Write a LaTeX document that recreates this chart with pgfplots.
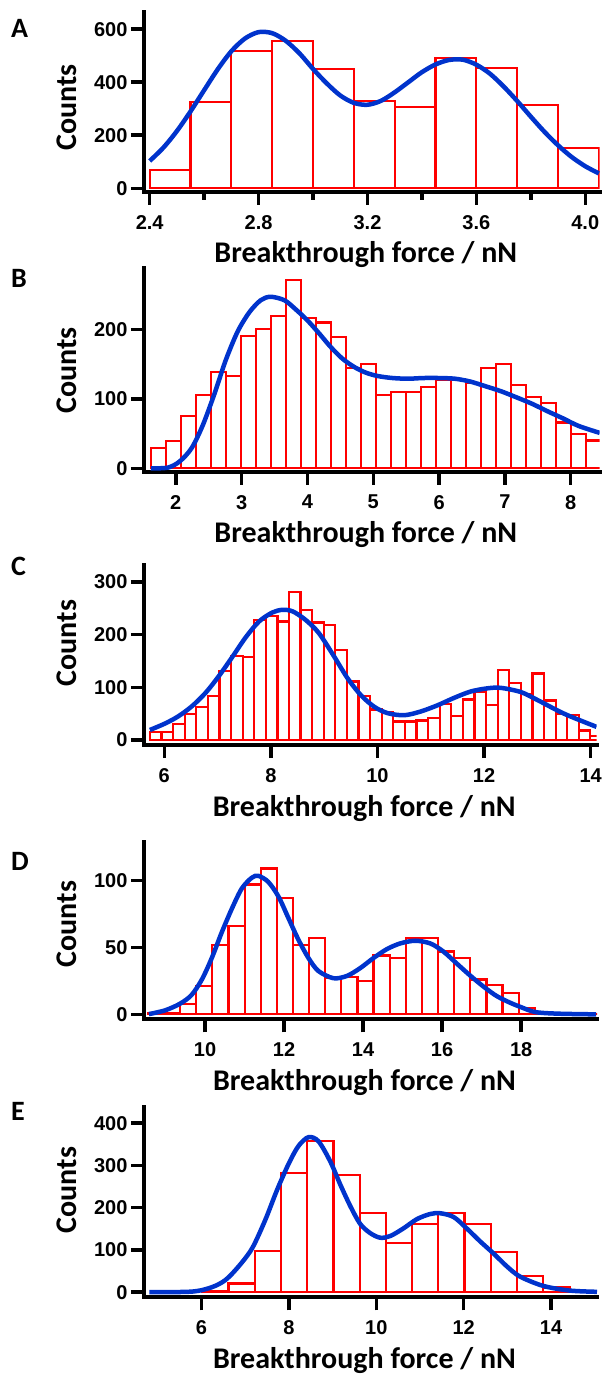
\documentclass[border=0pt]{standalone}
\usepackage{fontspec}
\newfontfamily\tickfont{Liberation Sans}
\newfontfamily\labfont{Carlito}
\usepackage{pgfplots}
\pgfplotsset{compat=1.18}
\definecolor{barred}{HTML}{FF0000}
\definecolor{fitblue}{HTML}{0033CC}

\pgfplotsset{
  panel/.style={
    scale only axis,
    enlargelimits=false,
    axis lines*=left,
    axis line style={line width=4pt, black, line cap=rect},
    tick style={black, line width=3.5pt},
    major tick length=13pt,
    minor tick length=8pt,
    tick align=outside,
    /pgf/number format/assume math mode=true,
    ticklabel style={font=\tickfont\bfseries\fontsize{20}{22}\selectfont},
    xticklabel style={yshift=-7pt},
    xlabel={Breakthrough force / nN},
    ylabel={Counts},
    label style={font=\labfont\bfseries\fontsize{30}{32}\selectfont, inner sep=0pt},
    xlabel style={at={(rel axis cs:0.5,0)}, anchor=base, xshift=-6pt, yshift=-71pt},
  },
  bars/.style={ybar interval, draw=barred, line width=2.2pt, fill=none},
  fit/.style={fitblue, line width=4.5pt, smooth, no markers},
}
\newcommand\panellabel[2]{\node[anchor=north west, inner sep=0pt, font=\labfont\bfseries\fontsize{28}{28}\selectfont] at (11pt,#1) {#2};}

\begin{document}
\begin{tikzpicture}
\path[use as bounding box] (0pt,0pt) rectangle (603pt,-1375pt);

% A
\begin{axis}[panel, at={(144pt,-191.7pt)}, anchor=south west,
  width=455.7pt, height=180pt,
  xmin=2.379, xmax=4.053, ymin=-13, ymax=666,
  xtick={2.4,2.8,3.2,3.6,4.0}, minor xtick={2.6,3.0,3.4,3.8},
  ytick={0,200,400,600},
  xticklabel style={/pgf/number format/.cd, fixed, fixed zerofill, precision=1},
  ylabel style={at={([xshift=-66.7pt,yshift=84.2pt]rel axis cs:0,0)}, anchor=south}]
\addplot[bars] coordinates {(2.40,69) (2.55,326) (2.70,519) (2.85,555) (3.00,450)
  (3.15,328) (3.30,306) (3.45,490) (3.60,455) (3.75,314) (3.90,151) (4.05,151)};
\addplot[fit] coordinates {(2.40,103) (2.45,153) (2.50,216) (2.55,290) (2.60,370)
  (2.65,449) (2.70,517) (2.75,565) (2.80,589) (2.85,585) (2.90,556) (2.95,509)
  (3.00,450) (3.05,396) (3.10,350) (3.15,322) (3.20,315) (3.25,330) (3.30,362)
  (3.35,400) (3.40,438) (3.45,467) (3.50,484) (3.55,485) (3.60,466) (3.65,432)
  (3.70,384) (3.75,329) (3.80,270) (3.85,213) (3.90,162) (3.95,118) (4.00,83) (4.05,56)};
\end{axis}
\panellabel{-19pt}{A}

% B
\begin{axis}[panel, at={(144pt,-471.7pt)}, anchor=south west,
  width=455.7pt, height=203.4pt,
  xmin=1.517, xmax=8.44, ymin=-4.9, ymax=288,
  xtick={2,3,...,8}, ytick={0,100,200},
  ylabel style={at={([xshift=-66.7pt,yshift=101.2pt]rel axis cs:0,0)}, anchor=south}]
\addplot[bars] coordinates {(1.620,29) (1.848,39) (2.076,75) (2.304,105) (2.532,139)
  (2.760,133) (2.988,190) (3.216,201) (3.444,219) (3.672,271) (3.900,217) (4.128,210)
  (4.356,189) (4.584,145) (4.812,150) (5.040,105) (5.268,110) (5.496,110) (5.724,117)
  (5.952,127) (6.180,127) (6.408,123) (6.636,145) (6.864,150) (7.092,120) (7.320,103)
  (7.548,94) (7.776,66) (8.004,49) (8.232,40) (8.460,40)};
\addplot[fit] coordinates {(1.62,0) (1.88,1) (2.06,10) (2.24,29) (2.41,62) (2.59,108)
  (2.76,156) (2.94,197) (3.12,225) (3.29,242) (3.44,247) (3.65,242) (3.82,229) (4.0,213)
  (4.18,194) (4.35,175) (4.53,158) (4.71,146) (4.88,138) (5.06,133) (5.29,130) (5.53,129)
  (5.76,130) (6.0,130) (6.24,129) (6.47,125) (6.71,118) (6.94,111) (7.18,102) (7.41,93)
  (7.65,82) (7.88,72) (8.12,61) (8.44,51)};
\end{axis}
\panellabel{-269pt}{B}

% C
\begin{axis}[panel, at={(144pt,-745pt)}, anchor=south west,
  width=452.5pt, height=180pt,
  xmin=5.62, xmax=14.11, ymin=-9.5, ymax=332,
  xtick={6,8,...,14}, ytick={0,100,200,300},
  ylabel style={at={([xshift=-66.7pt,yshift=102pt]rel axis cs:0,0)}, anchor=south}]
\addplot[bars] coordinates {(5.730,15) (5.948,15) (6.165,30) (6.383,49) (6.600,62)
  (6.818,84) (7.035,131) (7.253,159) (7.470,157) (7.688,227) (7.905,236) (8.123,225)
  (8.340,281) (8.558,246) (8.775,223) (8.993,218) (9.210,170) (9.428,111) (9.645,84)
  (9.863,58) (10.080,52) (10.298,35) (10.515,35) (10.733,37) (10.950,41) (11.168,68)
  (11.385,46) (11.603,77) (11.820,92) (12.038,67) (12.255,133) (12.473,108) (12.690,88)
  (12.908,126) (13.125,75) (13.343,50) (13.560,47) (13.778,18) (13.995,7) (14.213,7)};
\addplot[fit] coordinates {(5.73,19) (6.03,32) (6.28,46) (6.53,65) (6.78,90) (7.03,122)
  (7.28,158) (7.53,195) (7.78,225) (8.03,242) (8.22,247) (8.41,244) (8.65,228) (8.9,203)
  (9.19,158) (9.44,117) (9.69,85) (9.94,63) (10.19,51) (10.5,47) (10.81,54) (11.13,66)
  (11.44,80) (11.75,92) (12.06,98) (12.31,99) (12.69,91) (13.0,76) (13.5,50) (14.11,25)};
\end{axis}
\panellabel{-556.5pt}{C}

% D
\begin{axis}[panel, at={(144pt,-1019.3pt)}, anchor=south west,
  width=453pt, height=177.6pt,
  xmin=8.456, xmax=19.92, ymin=-3.7, ymax=129,
  xtick={10,12,...,18}, ytick={0,50,100},
  ylabel style={at={([xshift=-66.7pt,yshift=95.3pt]rel axis cs:0,0)}, anchor=south}]
\addplot[bars] coordinates {(8.554,1) (8.962,1) (9.370,7.5) (9.778,21) (10.186,52)
  (10.594,66) (11.002,97) (11.410,109) (11.818,87) (12.226,52) (12.634,57) (13.042,27)
  (13.450,28) (13.858,25) (14.266,44) (14.674,42) (15.082,57) (15.490,57) (15.898,47)
  (16.306,42) (16.714,26) (17.122,22) (17.530,16) (17.938,5) (18.346,1) (18.754,0.5)
  (19.162,0.5) (19.570,0.5) (19.978,0.5)};
\addplot[fit] coordinates {(8.58,0.2) (8.99,3) (9.37,8) (9.66,14.5) (9.92,26) (10.17,42)
  (10.42,61) (10.68,79) (10.93,94) (11.18,102) (11.35,103.5) (11.6,99) (11.86,88)
  (12.11,72) (12.36,56) (12.62,42) (12.87,32.4) (13.25,27) (13.59,28.7) (13.92,34.4)
  (14.26,42) (14.6,48.7) (14.94,53) (15.32,55) (15.7,53) (16.03,47) (16.37,38) (16.71,29)
  (17.05,20.7) (17.38,13.7) (17.72,8.7) (17.97,5.7) (18.36,1.7) (18.95,0.5) (19.9,0)};
\end{axis}
\panellabel{-852.5pt}{D}

% E
\begin{axis}[panel, at={(144pt,-1297.3pt)}, anchor=south west,
  width=453pt, height=190.6pt,
  xmin=4.686, xmax=15.05, ymin=-12, ymax=439,
  xtick={6,8,...,14}, ytick={0,100,...,400},
  ylabel style={at={([xshift=-66.7pt,yshift=107.3pt]rel axis cs:0,0)}, anchor=south}]
\addplot[bars] coordinates {(6.02,3) (6.62,20.5) (7.22,98) (7.82,282) (8.42,357)
  (9.02,278) (9.62,187) (10.22,116) (10.82,161) (11.42,187) (12.02,162) (12.62,96)
  (13.22,39) (13.82,11) (14.42,11)};
\addplot[fit] coordinates {(4.81,0) (5.79,1.6) (6.24,12) (6.55,29) (6.85,61) (7.16,104)
  (7.46,171) (7.73,242) (8.0,305) (8.22,346) (8.45,367) (8.68,357) (8.95,309) (9.18,254)
  (9.41,203) (9.63,162) (9.86,140) (10.09,129) (10.32,133) (10.62,151) (10.93,173)
  (11.23,185) (11.46,187) (11.77,178) (12.07,151) (12.38,120) (12.68,92) (12.99,61)
  (13.29,37) (13.82,15) (14.42,4) (15.05,1)};
\end{axis}
\panellabel{-1102.5pt}{E}
\end{tikzpicture}
\end{document}
